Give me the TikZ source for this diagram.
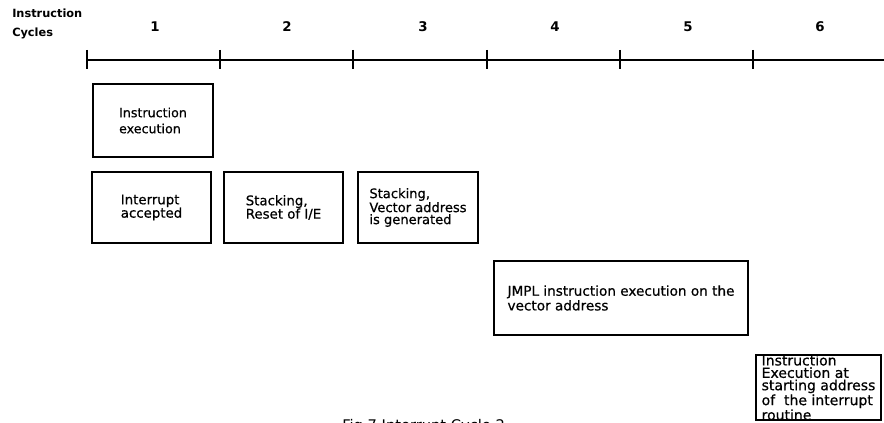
\documentclass[tikz,border=0pt]{standalone}
\usepackage{fontspec}
\setmainfont{DejaVu Sans}
\newfontfamily\boxfont[FakeBold=0.6]{DejaVu Sans}
\begin{document}
\begin{tikzpicture}[x=0.75pt,y=-0.75pt,
  event/.style={draw,line width=1.4pt,align=left,inner sep=0pt,
    font=\boxfont\fontsize{10}{10}\selectfont},
  cyc/.style={font=\bfseries\fontsize{10}{12}\selectfont,inner sep=0pt},
  hdr/.style={font=\bfseries\fontsize{8.5}{10}\selectfont,anchor=west,inner sep=0pt},
  axisline/.style={line width=2pt},
  tickmark/.style={line width=1.2pt}]
\clip (0,0) rectangle (884,423);

% header
\node[hdr] (h1) at (12,13) {Instruction};
\node[hdr] (h2) at (12,33) {Cycles};

% time axis with cycle boundaries
\coordinate (a0) at (87,60);
\coordinate (aend) at (884,60);
\draw[axisline] (a0) -- (aend);
\foreach \x/\n in {87/t0,220/t1,353/t2,487/t3,620/t4,753/t5}{
  \coordinate (\n) at (\x,60);
  \draw[tickmark] (\x,50) -- (\x,69);
}

% cycle numbers
\foreach \x/\k in {155/1,287/2,423/3,555/4,688/5,820/6}{
  \node[cyc] (c\k) at (\x,27) {\k};
}

% events
\node[event,minimum width=90pt,minimum height=54.75pt,
  font=\boxfont\fontsize{9.5}{12}\selectfont] (ie) at (153,120.5)
  {Instruction\\execution};
\node[event,minimum width=89.25pt,minimum height=53.25pt] (ia) at (151.5,207.5)
  {Interrupt\\accepted};
\node[event,minimum width=89.25pt,minimum height=53.25pt] (sr) at (283.5,207.5)
  {Stacking,\\Reset of I/E};
\node[event,minimum width=90pt,minimum height=53.25pt,
  font=\boxfont\fontsize{9.8}{9}\selectfont] (sv) at (418,207.5)
  {Stacking,\\Vector address\\is generated};
\node[event,minimum width=190.5pt,minimum height=55.5pt,
  font=\boxfont\fontsize{10.2}{11}\selectfont] (jm) at (621,298)
  {JMPL instruction execution on the\\vector address};
\node[event,minimum width=93.75pt,minimum height=48.75pt,
  font=\boxfont\fontsize{10.5}{9.3}\selectfont] (ix) at (818.5,387.5)
  {Instruction\\Execution at\\starting address\\of\ \ the interrupt\\routine};

% caption, cut by the lower edge
\node[anchor=north west,inner sep=0pt,font=\fontsize{11}{13}\selectfont] (cap) at (342,419)
  {Fig.7 Interrupt Cycle 2};
\end{tikzpicture}
\end{document}
